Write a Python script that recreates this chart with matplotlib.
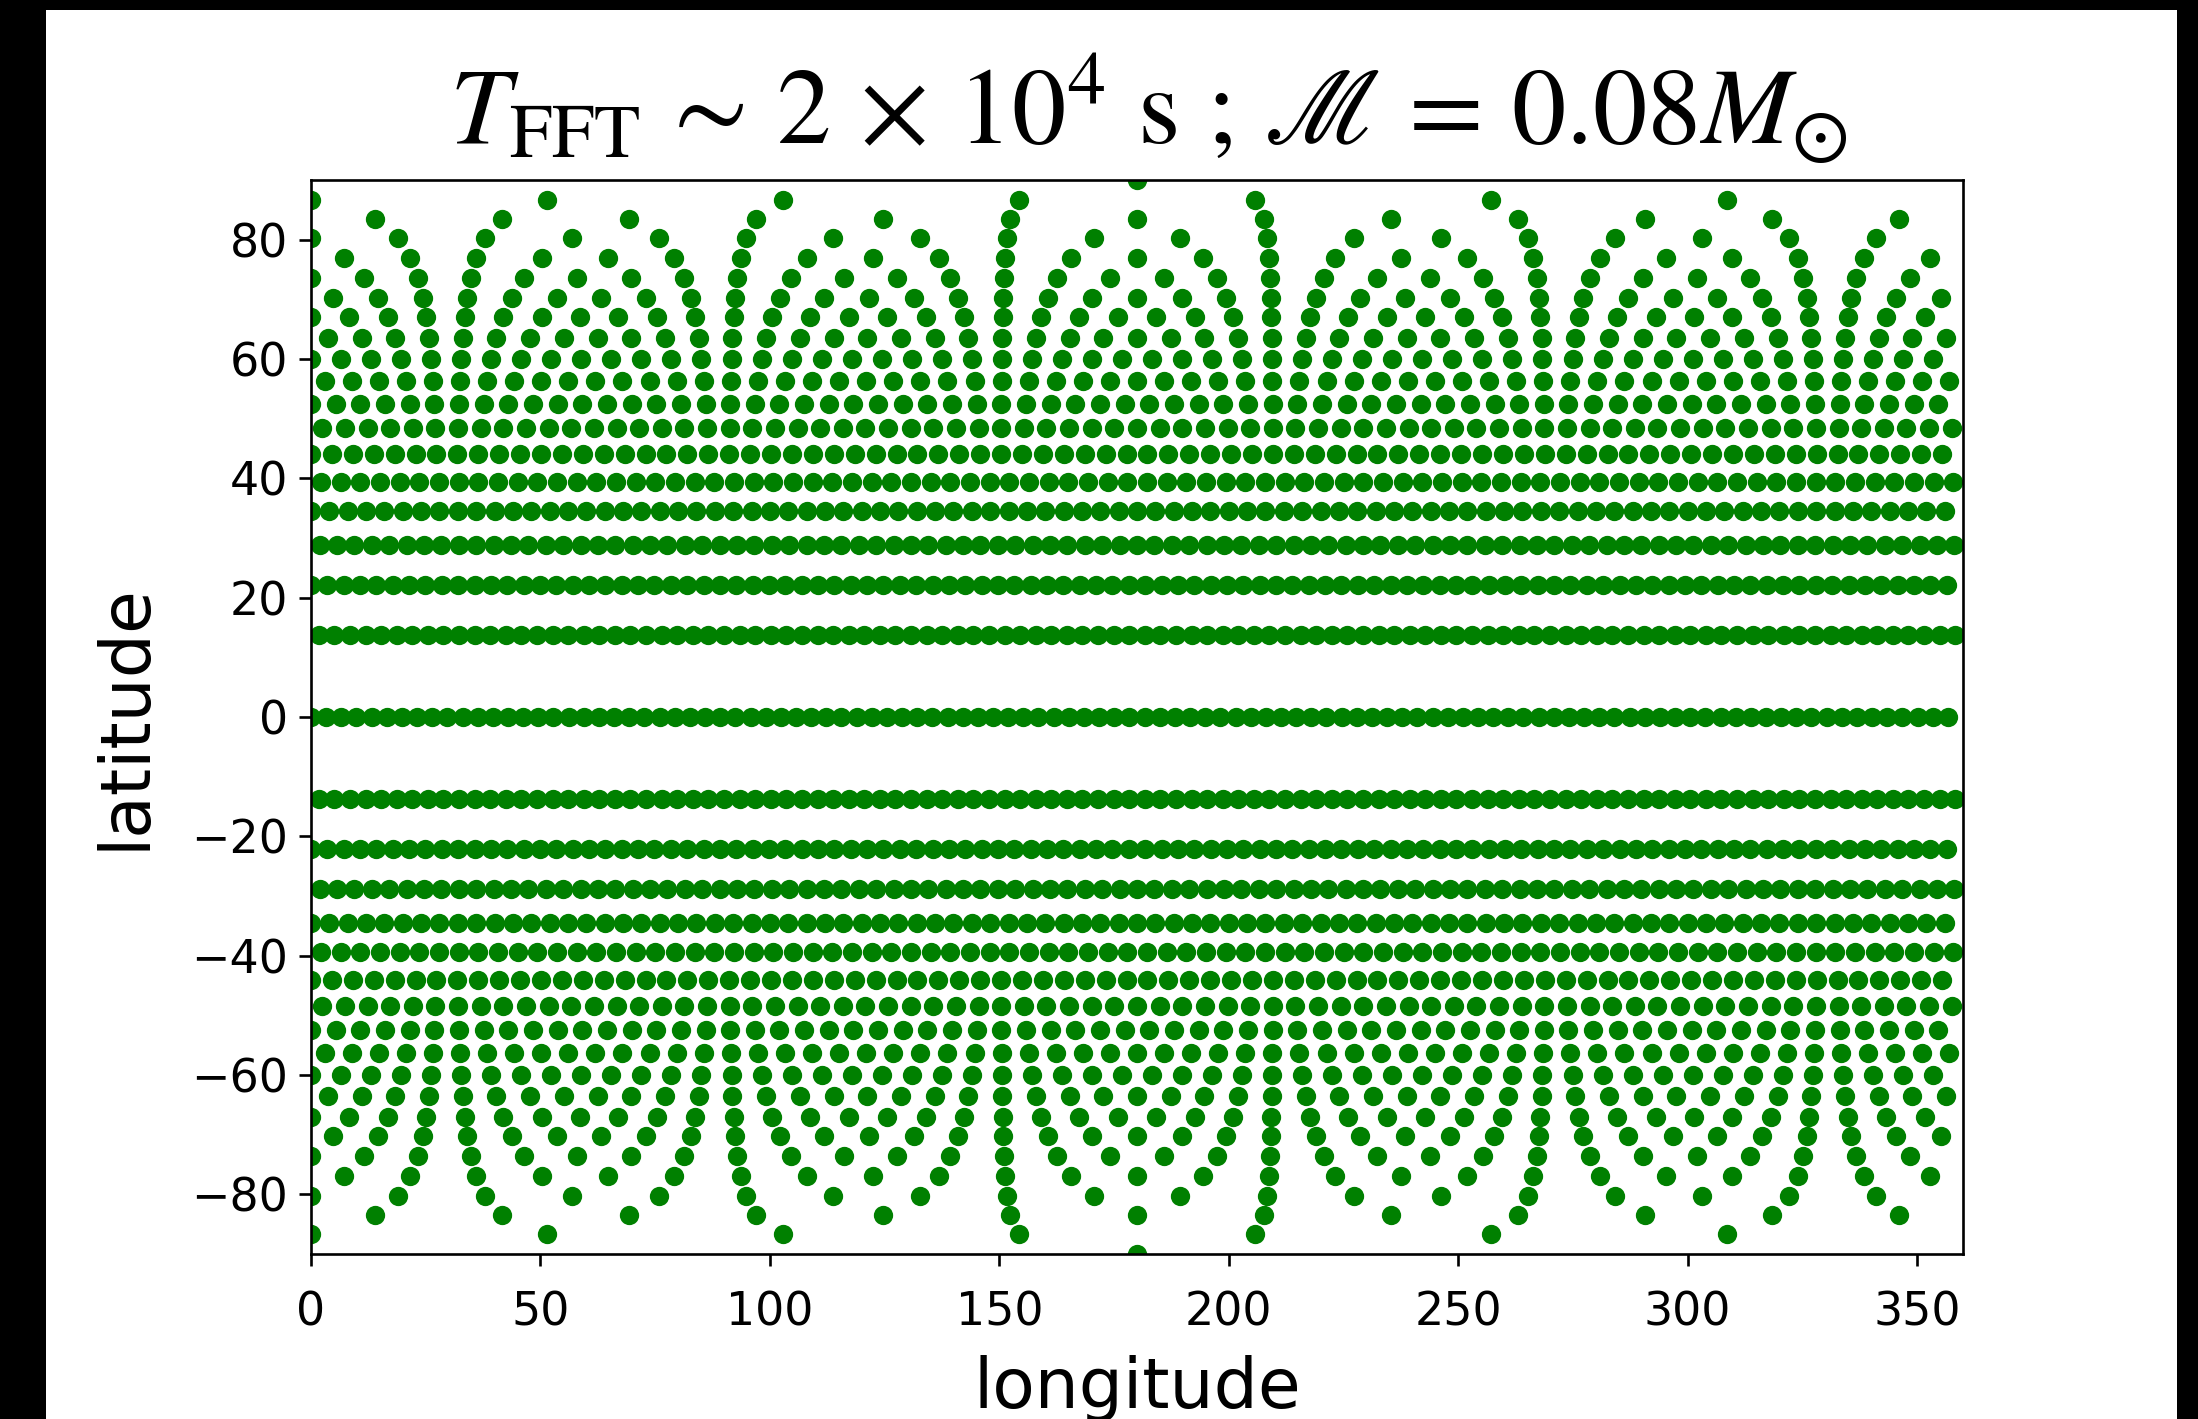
import numpy as np
import matplotlib
matplotlib.use('Agg')
import matplotlib.pyplot as plt
from matplotlib.patches import Rectangle

matplotlib.rcParams['mathtext.fontset'] = 'stix'

# sky grid rows (northern half, mirrored to the south)
lat_rows = [90.0, 86.6, 83.4, 80.2, 76.9, 73.6, 70.3, 67.0, 63.6, 60.0,
            56.3, 52.4, 48.4, 44.0, 39.4, 34.6, 28.9, 22.2, 13.7, 0.0]
n_points = [1, 7, 13, 19, 25, 31, 37, 43, 49, 55,
            61, 67, 73, 79, 84, 90, 95, 101, 106, 109]
half_shift = [1, 0, 1, 0, 1, 0, 1, 0, 1, 0,
              1, 0, 1, 0, 1, 0, 1, 0, 1, 0]

lons = []
lats = []
for lat, n, sh in zip(lat_rows, n_points, half_shift):
    lon = (np.arange(n) + 0.5 * sh) * 360.0 / n
    lons.extend(lon)
    lats.extend([lat] * n)
    if lat != 0:
        lons.extend(lon)
        lats.extend([-lat] * n)

W, H = 2198, 1419
fig = plt.figure(figsize=(W / 100, H / 100), dpi=100)
fig.patch.set_facecolor('black')
bg = Rectangle((46 / W, 0), (2177 - 46) / W, 1 - 10 / H,
               transform=fig.transFigure, facecolor='white',
               edgecolor='none', zorder=-10)
fig.add_artist(bg)

ax = fig.add_axes([311 / W, 1 - 1254 / H, (1963 - 311) / W, (1254 - 180) / H])
ax.set_zorder(1)
ax.plot(lons, lats, 'o', color='green', markersize=13.9, markeredgewidth=0)
ax.set_xlim(0, 360)
ax.set_ylim(-90, 90)
ax.set_xticks(np.arange(0, 351, 50))
ax.set_yticks(np.arange(-80, 81, 20))
ax.tick_params(labelsize=33, length=8.4, width=1.9)
ax.tick_params(axis='x', pad=18)
ax.tick_params(axis='y', pad=8)
for sp in ax.spines.values():
    sp.set_linewidth(1.9)
ax.set_xlabel('longitude', fontsize=50, labelpad=14)
ax.set_ylabel('latitude', fontsize=50, labelpad=24)
ax.set_title(r'$T_{\rm FFT} \,\sim\, 2 \,\times\, 10^4$ s ; $\mathscr{M} \,=\, 0.08 M_{\odot}$',
             fontsize=78, family='STIXGeneral', pad=26, x=0.507)

fig.savefig('out.png', dpi=100, facecolor=fig.get_facecolor())
